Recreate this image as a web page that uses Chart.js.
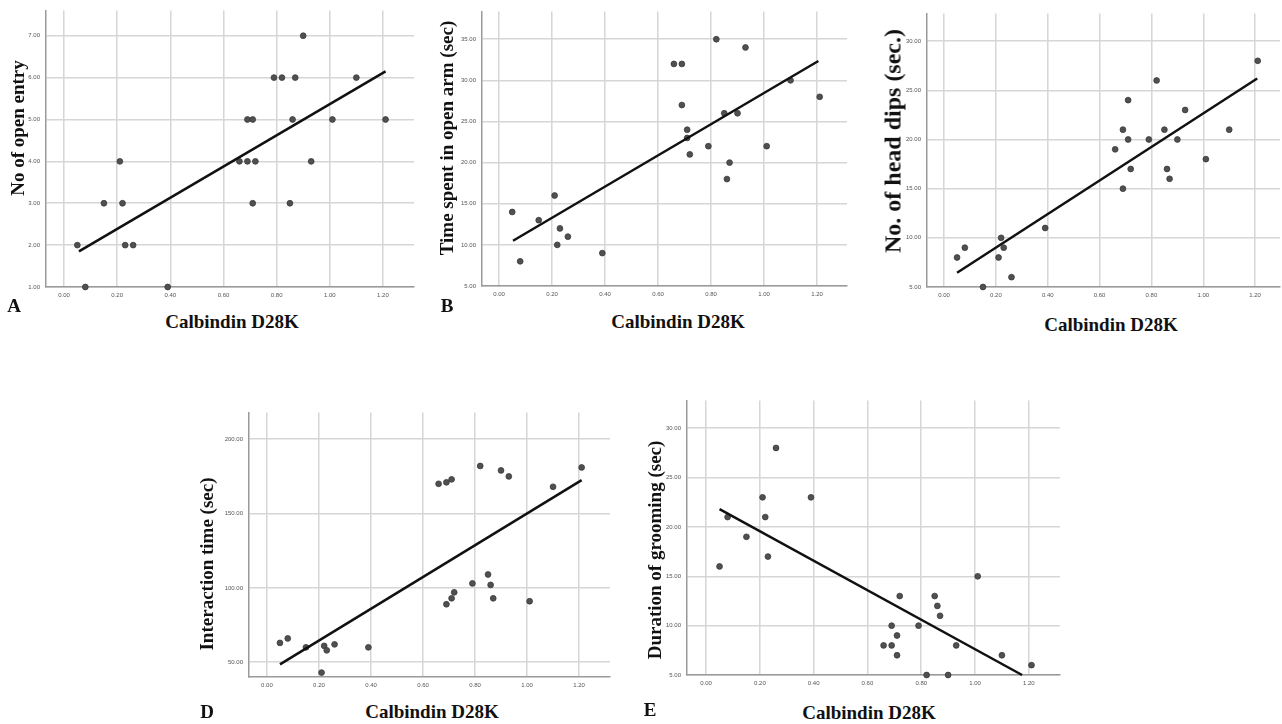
<!DOCTYPE html>
<html>
<head>
<meta charset="utf-8">
<script src="https://cdn.jsdelivr.net/npm/chart.js@4.4.1/dist/chart.umd.min.js"></script>
<style>
  body { margin: 0; width: 1282px; height: 724px; background: #fff; position: relative; overflow: hidden; }
  canvas { position: absolute; }
  .lbl {
    position: absolute;
    font-family: "Liberation Serif", "Times New Roman", serif;
    font-weight: bold;
    font-size: 19px;
    color: #111;
    white-space: nowrap;
    transform: translate(-50%, -50%);
  }
  .ytitle { transform: translate(-50%, -50%) rotate(-90deg); }
</style>
</head>
<body>

<canvas id="chartA"></canvas>
<canvas id="chartB"></canvas>
<canvas id="chartC"></canvas>
<canvas id="chartD"></canvas>
<canvas id="chartE"></canvas>

<div class="lbl ytitle" style="left:18px; top:128px;">No of open entry</div>
<div class="lbl" style="left:232px; top:322px;">Calbindin D28K</div>
<div class="lbl" style="left:14px; top:306px;">A</div>

<div class="lbl ytitle" style="left:447px; top:138px;">Time spent in open arm (sec)</div>
<div class="lbl" style="left:678px; top:322px;">Calbindin D28K</div>
<div class="lbl" style="left:447px; top:306px;">B</div>

<div class="lbl ytitle" style="left:893px; top:141px; font-size:24px;">No. of head dips (sec.)</div>
<div class="lbl" style="left:1111px; top:325px;">Calbindin D28K</div>

<div class="lbl ytitle" style="left:207px; top:564px;">Interaction time (sec)</div>
<div class="lbl" style="left:432px; top:712px;">Calbindin D28K</div>
<div class="lbl" style="left:207px; top:712px;">D</div>

<div class="lbl ytitle" style="left:655px; top:550px;">Duration of grooming (sec)</div>
<div class="lbl" style="left:869px; top:713px;">Calbindin D28K</div>
<div class="lbl" style="left:650px; top:710px;">E</div>

<script>
// shared x values (Calbindin D28K)
const calbindin = [0.05, 0.08, 0.15, 0.21, 0.22, 0.23, 0.26, 0.39, 0.66, 0.69, 0.69, 0.71,
                   0.71, 0.72, 0.79, 0.82, 0.85, 0.86, 0.87, 0.90, 0.93, 1.01, 1.10, 1.21];

const openEntry    = [2, 1, 3, 4, 3, 2, 2, 1, 4, 4, 5, 5, 3, 4, 6, 6, 3, 5, 6, 7, 4, 5, 6, 5];
const openArmTime  = [14, 8, 13, 16, 10, 12, 11, 9, 32, 32, 27, 24, 23, 21, 22, 35, 26, 18, 20, 26, 34, 22, 30, 28];
const headDips     = [8, 9, 5, 8, 10, 9, 6, 11, 19, 21, 15, 24, 20, 17, 20, 26, 21, 17, 16, 20, 23, 18, 21, 28];
const interaction  = [63, 66, 60, 43, 61, 58, 62, 60, 170, 171, 89, 173, 93, 97, 103, 182, 109, 102, 93, 179, 175, 91, 168, 181];
const grooming     = [16, 21, 19, 23, 21, 17, 28, 23, 8, 10, 8, 9, 7, 13, 10, 5, 13, 12, 11, 5, 8, 15, 7, 6];

// fit line end points
const fitA = [[0.056, 1.85], [1.21, 6.15]];
const fitB = [[0.053, 10.5], [1.205, 32.35]];
const fitC = [[0.05, 6.45], [1.208, 26.2]];
const fitD = [[0.05, 48.5], [1.21, 172.5]];
const fitE = [[0.05, 21.8], [1.175, 5.0]];

// tick labels
const xTicks = [0, 0.2, 0.4, 0.6, 0.8, 1.0, 1.2];
const yTicksA = [1, 2, 3, 4, 5, 6, 7];
const yTicksB = [5, 10, 15, 20, 25, 30, 35];
const yTicksC = [5, 10, 15, 20, 25, 30];
const yTicksD = [50, 100, 150, 200];
const yTicksE = [5, 10, 15, 20, 25, 30];

const YW = 40, XH = 20, PAD = 6;

function makePanel(id, area, ys, fit, xRange, yRange, yTicks) {
  const cv = document.getElementById(id);
  const left = area.l - YW;
  const top = area.t - PAD;
  cv.width = area.r + PAD - left;
  cv.height = area.b + XH - top;
  cv.style.left = left + "px";
  cv.style.top = top + "px";

  const tickFont = { family: "Liberation Sans, Arial, sans-serif", size: 6 };

  return new Chart(cv, {
    type: "scatter",
    data: {
      datasets: [{
        type: "line",
        data: fit.map(p => ({ x: p[0], y: p[1] })),
        borderColor: "#111",
        borderWidth: 2.5,
        pointRadius: 0,
        fill: false,
        clip: false
      }, {
        data: calbindin.map((x, i) => ({ x: x, y: ys[i] })),
        backgroundColor: "#505050",
        borderColor: "#3a3a3a",
        borderWidth: 0.8,
        pointRadius: 2.9,
        clip: false
      }]
    },
    options: {
      responsive: false,
      animation: false,
      layout: { padding: { top: PAD, right: PAD, left: 0, bottom: 0 } },
      plugins: { legend: { display: false }, tooltip: { enabled: false } },
      scales: {
        x: {
          type: "linear",
          min: xRange[0],
          max: xRange[1],
          afterBuildTicks: s => { s.ticks = xTicks.map(v => ({ value: v })); },
          afterFit: s => { s.height = XH; },
          ticks: { color: "#555", font: tickFont, padding: 5, maxRotation: 0,
                   callback: v => Number(v).toFixed(2) },
          grid: { color: "#d6d6d6", lineWidth: 1.5, drawTicks: false },
          border: { color: "#9a9a9a", width: 1.5 }
        },
        y: {
          type: "linear",
          min: yRange[0],
          max: yRange[1],
          afterBuildTicks: s => { s.ticks = yTicks.map(v => ({ value: v })); },
          afterFit: s => { s.width = YW; },
          ticks: { color: "#555", font: tickFont, padding: 6,
                   callback: v => Number(v).toFixed(2) },
          grid: { color: "#d6d6d6", lineWidth: 1.5, drawTicks: false },
          border: { color: "#9a9a9a", width: 1.5 }
        }
      }
    }
  });
}

makePanel("chartA", { l: 46, t: 7, r: 414, b: 287 }, openEntry, fitA, [-0.068, 1.317], [1, 7.6], yTicksA);
makePanel("chartB", { l: 482, t: 8, r: 847, b: 286 }, openArmTime, fitB, [-0.064, 1.313], [5, 38.36], yTicksB);
makePanel("chartC", { l: 927, t: 10, r: 1280, b: 287 }, headDips, fitC, [-0.066, 1.296], [5, 32.8], yTicksC);
makePanel("chartD", { l: 249, t: 409, r: 610, b: 677 }, interaction, fitD, [-0.069, 1.319], [40.05, 217.9], yTicksD);
makePanel("chartE", { l: 687, t: 397, r: 1060, b: 675 }, grooming, fitE, [-0.071, 1.316], [5, 32.8], yTicksE);
</script>
</body>
</html>
